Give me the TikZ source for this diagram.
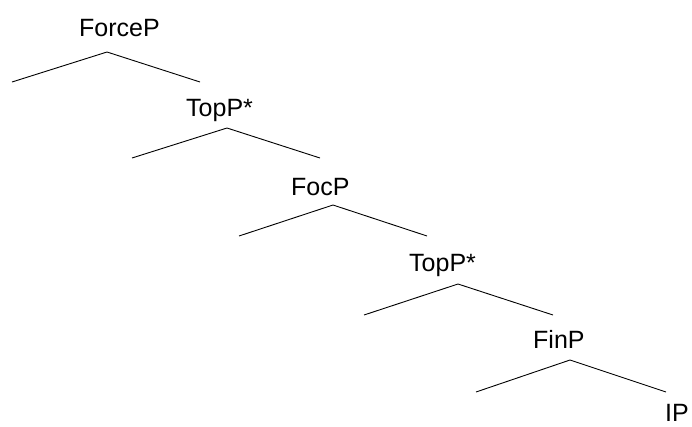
\documentclass[tikz,border=0pt]{standalone}
\usepackage{fontspec}
\setmainfont{Liberation Sans}
\tikzset{
  phrase/.style={anchor=base west, inner sep=0pt, font=\fontsize{25}{30}\selectfont},
  branch/.style={line width=0.9pt}
}
\begin{document}
\begin{tikzpicture}[x=1pt,y=-1pt]
\useasboundingbox (0,0) rectangle (692,426);

\node[phrase] (forcep) at (79,36) {ForceP};
\coordinate (forcep-top) at (107,52);
\coordinate (forcep-l) at (12,82);
\coordinate (forcep-r) at (200,82);
\draw[branch] (forcep-l) -- (forcep-top) -- (forcep-r);

\node[phrase] (topp-a) at (186,116) {TopP*};
\coordinate (topp-a-top) at (227,128);
\coordinate (topp-a-l) at (132,158);
\coordinate (topp-a-r) at (320,158);
\draw[branch] (topp-a-l) -- (topp-a-top) -- (topp-a-r);

\node[phrase] (focp) at (291,195) {FocP};
\coordinate (focp-top) at (333,205);
\coordinate (focp-l) at (239,236);
\coordinate (focp-r) at (427,236);
\draw[branch] (focp-l) -- (focp-top) -- (focp-r);

\node[phrase] (topp-b) at (409,271) {TopP*};
\coordinate (topp-b-top) at (458,284);
\coordinate (topp-b-l) at (364,315);
\coordinate (topp-b-r) at (553,315);
\draw[branch] (topp-b-l) -- (topp-b-top) -- (topp-b-r);

\node[phrase] (finp) at (533,348) {FinP};
\coordinate (finp-top) at (570,360);
\coordinate (finp-l) at (476,392);
\coordinate (finp-r) at (666,392);
\draw[branch] (finp-l) -- (finp-top) -- (finp-r);

\node[phrase] (ip) at (665,421) {IP};

\end{tikzpicture}
\end{document}
